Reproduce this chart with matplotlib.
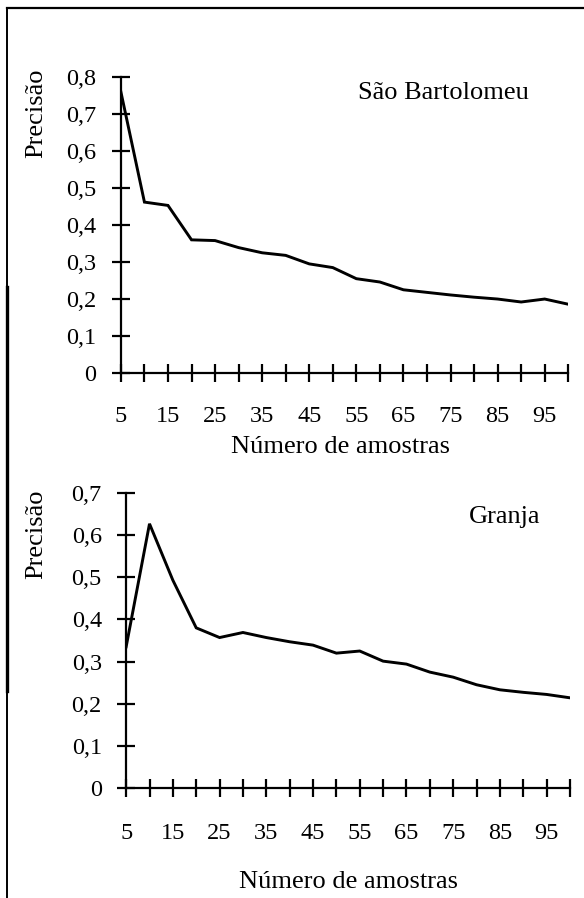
import matplotlib.pyplot as plt
from matplotlib.lines import Line2D

# Data
amostras = list(range(5, 101, 5))
sao_bartolomeu = [0.76, 0.462, 0.453, 0.36, 0.358, 0.339, 0.325, 0.318, 0.295, 0.285,
                  0.255, 0.246, 0.225, 0.218, 0.211, 0.205, 0.200, 0.192, 0.200, 0.186]
granja = [0.335, 0.627, 0.493, 0.38, 0.357, 0.369, 0.357, 0.347, 0.339, 0.320,
          0.325, 0.301, 0.294, 0.275, 0.263, 0.245, 0.233, 0.227, 0.222, 0.214]
xtick_labels = [str(v) for v in range(5, 100, 10)]

plt.rcParams['font.family'] = ['Liberation Serif', 'DejaVu Serif']

fig = plt.figure(figsize=(5.84, 8.98), dpi=100)

# scanned frame around the figure (left and top edges only)
fig.add_artist(Line2D([0.012, 0.012], [0.0, 0.991], color='black', lw=1.4, transform=fig.transFigure))
fig.add_artist(Line2D([0.012, 0.012], [0.23, 0.68], color='black', lw=2.4, transform=fig.transFigure))
fig.add_artist(Line2D([0.012, 1.0], [0.991, 0.991], color='black', lw=1.6, transform=fig.transFigure))

panels = [
    ([0.207, 0.5846, 0.766, 0.3296], sao_bartolomeu, 0.8, 'São Bartolomeu',
     (0.53, 0.946), (-0.19, 0.878), 17, (0.49, -0.25)),
    ([0.216, 0.1225, 0.760, 0.3285], granja, 0.7, 'Granja',
     (0.772, 0.919), (-0.203, 0.861), 19, (0.502, -0.319)),
]

for rect, values, ymax, title, tpos, ylab_pos, xpad, xlab_pos in panels:
    ax = fig.add_axes(rect)
    ax.plot(amostras, values, color='black', lw=2.1, solid_joinstyle='miter')
    ax.set_xlim(5, 100)
    ax.set_ylim(0, ymax)
    ax.spines['top'].set_visible(False)
    ax.spines['right'].set_visible(False)
    ax.spines['left'].set_linewidth(1.6)
    ax.spines['bottom'].set_linewidth(1.6)
    ax.set_xticks(amostras)
    ax.set_xticklabels([str(a) if str(a) in xtick_labels else '' for a in amostras])
    yt = [i / 10 for i in range(int(round(ymax * 10)) + 1)]
    ax.set_yticks(yt)
    ax.set_yticklabels(['0' if v == 0 else f'{v:.1f}'.replace('.', ',') for v in yt])
    ax.tick_params(axis='both', direction='inout', length=13, width=1.6, labelsize=17.5)
    ax.tick_params(axis='x', pad=xpad)
    ax.tick_params(axis='y', pad=11)
    ax.set_xlabel('Número de amostras', fontsize=19)
    ax.xaxis.set_label_coords(*xlab_pos)
    ax.xaxis.label.set_va('center')
    ax.set_ylabel('Precisão', fontsize=19)
    ax.yaxis.set_label_coords(*ylab_pos)
    ax.yaxis.label.set_va('center')
    ax.text(tpos[0], tpos[1], title, transform=ax.transAxes, fontsize=19, ha='left', va='center')

fig.savefig('out.png', dpi=100)
